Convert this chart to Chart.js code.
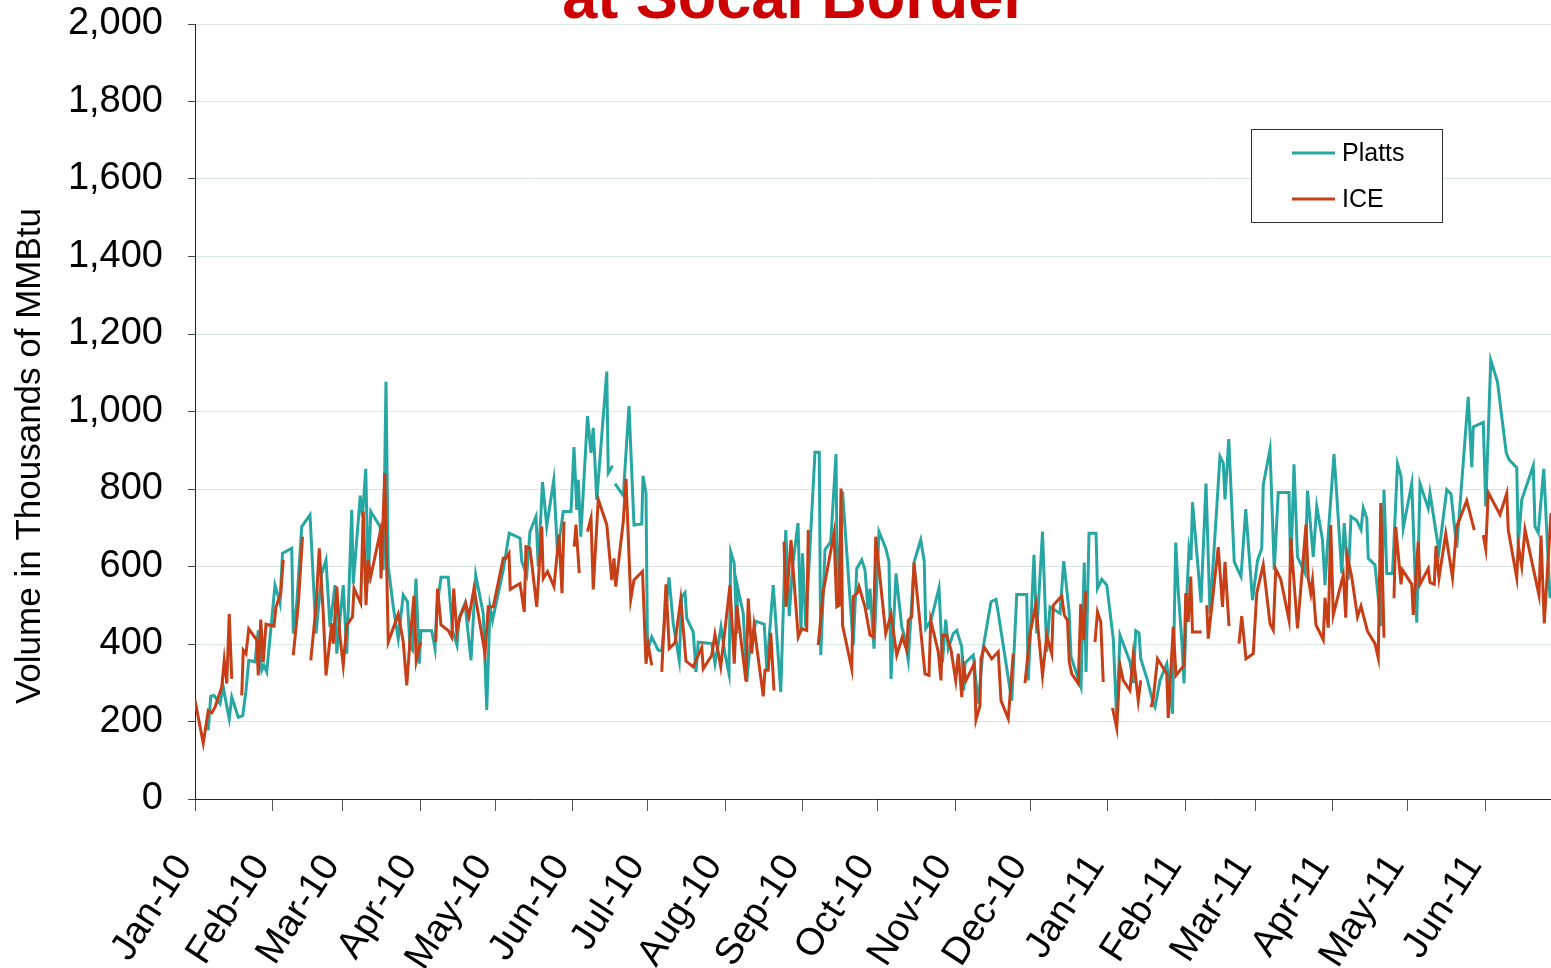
<!DOCTYPE html>
<html>
<head>
<meta charset="utf-8">
<title>Volume at Socal Border</title>
<script src="https://cdn.jsdelivr.net/npm/chart.js@4.4.1/dist/chart.umd.min.js"></script>
<style>
    body { margin: 0; background: #fff; }
    #wrap { width: 1551px; height: 968px; }
</style>
</head>
<body>
<div id="wrap"><canvas id="volumeChart" width="1551" height="968"></canvas></div>
<script>
// x = days since 1 Jan 2010, y = volume (thousands of MMBtu); null breaks the line
const plattsDaily = [
    [5.3,177],[6.3,265],[7.6,267],[10,246],[11.3,289],[12.4,250],[13.7,207],[14.7,263],[17.3,211],[19.1,215],
    [20.4,280],[21.5,358],[24,354],[25.3,435],[26.7,332],[27.6,345],[28.7,328],[32,552],[33,530],[34,505],
    [35,634],[38.7,647],[39.3,427],[40.7,505],[42.7,703],[46,733],[48.4,427],[50.7,582],[52.4,617],[54,444],
    [56,552],[56.7,375],[59.3,552],[60.7,375],[62.7,746],[63.3,556],[66.1,783],[67,729],[68.3,852],[69.3,556],
    [70.3,742],[74,703],[75.3,591],[76.4,1077],[77.3,600],[79.3,496],[81.3,414],[83.3,526],[85,509],[86,392],
    [87,384],[88.4,569],[89.7,349],[90.4,435],[94.7,434],[96,388],[96.7,492],[98.4,572],[101.3,572],[103,435],
    [104.8,397],[105.6,466],[108,505],[110.4,358],[112.3,578],[115.3,479],[116.7,230],[118,496],[119,461],[123.3,591],
    [125.7,686],[130,673],[130.7,613],[132.7,578],[134,690],[136.4,729],[137.3,600],[139,818],[140.7,704],[143.5,823],
    [145,634],[147.3,742],[150.4,742],[151.6,908],[152.7,746],[153.3,824],[154.3,677],[157,988],[158.4,893],[159.3,958],
    [160.7,772],[164.7,1103],[165.3,841],[167,860],[167.5,null],[168,814],[171.3,783],[173.6,1014],[175.6,707],[178.7,710],
    [179.2,834],[180.4,789],[181,384],[182.7,418],[185.3,384],[186.7,382],[189.6,572],[191.3,453],[193.7,358],[194.7,522],
    [196,533],[196.7,466],[199.3,431],[200.4,328],[201.3,405],[206.7,401],[208,349],[210.4,444],[212,375],[213.6,323],
    [214.3,638],[215.7,608],[216.7,427],[217,548],[219.3,479],[220.7,302],[222,392],[224.4,459],[227.7,451],[228.7,336],
    [231.3,552],[234.3,276],[236.3,694],[237.7,472],[239,600],[241.2,712],[242.4,431],[243,634],[244.3,444],[248,895],
    [249.7,895],[250.3,371],[252,643],[254.3,664],[256.4,890],[257,496],[259,794],[263.3,397],[264.7,595],[266.7,617],
    [268,591],[269.2,489],[270,543],[271.6,388],[273.6,690],[276.3,647],[277.6,613],[278.4,310],[280.4,582],[282.7,444],
    [283.7,423],[285.3,358],[287.7,613],[290.3,669],[291.7,613],[292.3,440],[294.4,461],[297.6,545],[299,354],[300.3,463],
    [301.3,388],[303.3,427],[304.7,435],[306.7,392],[307.5,280],[308,351],[311.3,371],[313.3,246],[315.3,392],[318.4,509],
    [320.4,515],[321.3,480],[326.7,254],[328.7,528],[332.7,528],[333.3,306],[335.6,630],[336.7,427],[339,690],[340.7,380],
    [342,496],[346,479],[347.5,614],[349.6,487],[350.4,367],[354.4,289],[355.7,610],[356.4,328],[357.6,686],[360.4,686],
    [361,543],[362.7,567],[364.7,552],[367.3,414],[368.7,203],[370,423],[374,354],[375.3,299],[376.3,434],[377.6,428],
    [378.3,362],[381,306],[383.3,246],[384,237],[386,306],[388.7,349],[391,220],[392.3,662],[393.3,535],[394.7,410],
    [395.6,298],[396.7,522],[397.6,647],[398.4,617],[399,766],[402.4,507],[404.4,814],[406,479],[410,884],[411.3,867],
    [412,773],[413.5,929],[415.7,612],[418.4,574],[420.3,748],[423,513],[425,615],[426.7,647],[427.3,810],[430,903],
    [431.7,591],[433.3,791],[437.6,791],[438.3,583],[439.6,864],[441,625],[444,583],[445,796],[447.3,625],[448.7,755],
    [451,669],[452,552],[453,656],[455.6,890],[456.7,785],[458.7,582],[459.7,712],[461.3,566],[462.4,729],[464.7,719],
    [466.4,695],[467.3,751],[468.7,725],[469.3,621],[472,604],[474.4,446],[475.6,798],[476.7,582],[479,582],[481,865],
    [482.4,833],[483.3,699],[486.7,814],[488.7,455],[490,814],[493.3,750],[494,789],[497.6,639],[500.7,798],[502.4,787],
    [504.7,649],[509.3,1038],[510.7,856],[511.3,960],[515.3,972],[516.3,755],[518.3,1133],[521,1076],[524.5,893],[525.6,876],
    [528.7,855],[529.3,656],[530.7,772],[535.3,860],[536,703],[537.3,687],[539.5,852],[542,518]
];

const iceDaily = [
    [0,255],[3.3,144],[5.3,228],[6.7,222],[8,237],[10.7,289],[11.7,358],[12.7,298],[13.7,477],[14.7,310],
    [16,null],[18.7,267],[19.3,384],[20.4,375],[21.5,439],[24.7,410],[25.3,319],[26.3,463],[27.3,354],[28.4,451],
    [31.6,446],[32.4,496],[34.3,530],[35.3,617],[37,null],[39.3,371],[41.3,500],[43,677],[45,null],[46.3,358],
    [48.4,496],[49.7,647],[51.3,479],[52.4,319],[54.7,453],[55.3,401],[56.7,548],[58,418],[59.3,345],[60.7,449],
    [63,470],[63.6,544],[66.3,505],[67.3,742],[68.4,500],[69.3,617],[70.3,574],[74,686],[74.4,569],[75.9,841],
    [77.3,405],[81.3,477],[83.3,405],[84.7,293],[86,410],[87.6,524],[88.5,356],[90.2,405],[92,null],[96.3,405],
    [97,543],[98.4,449],[101.3,435],[102.7,418],[103.5,543],[104.7,431],[106,470],[108.3,505],[109.6,470],[111.6,543],
    [116,375],[117.3,496],[119.3,496],[123.3,621],[124.3,621],[125.6,634],[126.1,541],[130,556],[131.7,483],[132.4,651],
    [134,647],[136.7,496],[138.7,703],[139.3,569],[141,587],[143.6,548],[145.6,682],[146.8,531],[147.6,716],[149,null],
    [151.7,651],[152.4,708],[153.7,583],[155,null],[157,690],[158.4,725],[159.3,541],[161.3,773],[164.7,708],[166.7,565],
    [167.6,621],[168.3,548],[171.3,716],[172.4,826],[174.3,515],[175.6,565],[179,587],[180.4,349],[181.3,397],[182.7,345],
    [184,null],[186.7,328],[188.4,554],[189.7,388],[192,403],[194.3,515],[196.4,356],[199.3,341],[200.4,358],[202.7,391],
    [203.3,336],[206.7,371],[208,425],[210.3,341],[214,552],[215.7,349],[216.7,500],[220.4,304],[221.3,517],[222.7,375],
    [223.6,446],[227.3,265],[228,332],[229.3,332],[230.3,429],[231.6,280],[233,null],[235.6,664],[236.4,496],[238.4,668],
    [241.3,418],[242.7,440],[244.7,435],[245.3,694],[247,null],[249.3,397],[251.3,535],[255.6,686],[256.7,496],[257.7,500],
    [258.4,801],[259,449],[262.7,336],[263.3,522],[264.9,531],[265.6,548],[268,496],[270,423],[271.3,418],[272.3,677],
    [276.3,427],[278.4,477],[280.7,371],[282.9,418],[284.7,384],[285.3,461],[286.7,470],[287.6,610],[292,323],[293.6,319],
    [294.3,461],[297.3,380],[298.4,306],[298.9,423],[300.7,422],[302.4,384],[304.3,306],[305.3,375],[306.7,263],[307.5,341],
    [308.4,306],[311.7,349],[312.4,204],[314,241],[314.4,362],[315.7,392],[318.7,362],[321.3,380],[322.4,254],[325.3,207],
    [327.3,375],[329,null],[332,299],[334,425],[336.3,503],[339,319],[340.7,422],[342.7,375],[343.3,500],[346.7,524],
    [347.7,475],[349,461],[349.7,354],[350.7,323],[353.3,298],[354.3,503],[355.5,410],[356.3,537],[358,null],[360,405],
    [361,483],[362.3,457],[363.3,302],[365,null],[367,235],[368.7,183],[370,345],[371.3,306],[374,280],[375.3,371],
    [377.3,254],[378.3,306],[380,null],[382.4,237],[383.3,259],[385,362],[388.7,323],[389.3,209],[391.3,444],[392.4,319],
    [395.6,345],[396.3,531],[397.3,457],[398.3,574],[399,431],[402.7,431],[404,null],[404.7,500],[405.3,414],[409.3,650],
    [411,496],[412,612],[413.6,446],[415,null],[417.6,401],[418.7,472],[420.4,362],[423.3,375],[424.7,531],[427.3,604],
    [430,453],[431.3,436],[432.3,593],[434.3,567],[437.6,462],[438.3,673],[441,440],[444.4,708],[445.3,569],[446.3,531],
    [447,565],[448.4,449],[451.3,411],[452,519],[453.3,442],[454.3,707],[455.3,475],[459.3,578],[460.3,468],[461,625],
    [462.7,573],[465,470],[466.4,498],[469,433],[472,401],[473.3,364],[474.3,764],[475.6,416],[477,null],[479.6,518],
    [480.3,702],[482.4,554],[483,591],[486.7,554],[487.3,475],[489.3,664],[490,554],[493.3,595],[494,559],[495.7,554],
    [496.4,653],[497.6,571],[500.3,684],[503,571],[504.7,703],[508.7,770],[511.7,694],[513,null],[515.3,681],[516.3,645],
    [517.3,791],[522,734],[524.7,789],[525.3,694],[528.7,571],[529.3,656],[530.7,600],[532,695],[537.6,526],[538.4,680],
    [539.7,453],[542.4,738]
];

// first of each month, in days since 1 Jan 2010
const monthStartDays = [0, 31, 59, 90, 120, 151, 181, 212, 243, 273, 304, 334, 365, 396, 424, 455, 485, 516];
const monthLabels = ['Jan-10', 'Feb-10', 'Mar-10', 'Apr-10', 'May-10', 'Jun-10', 'Jul-10', 'Aug-10', 'Sep-10',
    'Oct-10', 'Nov-10', 'Dec-10', 'Jan-11', 'Feb-11', 'Mar-11', 'Apr-11', 'May-11', 'Jun-11'];
const yTicks = [0, 200, 400, 600, 800, 1000, 1200, 1400, 1600, 1800, 2000];

const seriesNames = ['Platts', 'ICE'];
const seriesColors = ['#27a7a3', '#c63f17'];
const FONT = '"Liberation Sans", Arial, sans-serif';

function toPoints(rows) {
    return rows.map(r => ({ x: r[0], y: r[1] }));
}

const decorPlugin = {
    id: 'decor',
    afterDraw(chart) {
        const ctx = chart.ctx;
        ctx.save();

        // title, top line falls off the picture
        ctx.fillStyle = '#cc0000';
        ctx.font = 'bold 63px ' + FONT;
        ctx.textAlign = 'center';
        ctx.textBaseline = 'alphabetic';
        ctx.fillText('at Socal Border', 795, 18);

        // y axis title
        ctx.save();
        ctx.translate(30, 456);
        ctx.rotate(-Math.PI / 2);
        ctx.fillStyle = '#000';
        ctx.font = '35px ' + FONT;
        ctx.textAlign = 'center';
        ctx.textBaseline = 'middle';
        ctx.fillText('Volume in Thousands of MMBtu', 0, 0);
        ctx.restore();

        // legend box
        ctx.fillStyle = '#fff';
        ctx.fillRect(1251, 129, 191, 93);
        ctx.strokeStyle = '#333';
        ctx.lineWidth = 1;
        ctx.strokeRect(1251.5, 129.5, 191, 93);
        ctx.font = '25px ' + FONT;
        ctx.textAlign = 'left';
        ctx.textBaseline = 'middle';
        const rowsY = [153, 199];
        seriesNames.forEach(function(name, i) {
            ctx.strokeStyle = seriesColors[i];
            ctx.lineWidth = 3;
            ctx.beginPath();
            ctx.moveTo(1292, rowsY[i]);
            ctx.lineTo(1335, rowsY[i]);
            ctx.stroke();
            ctx.fillStyle = '#000';
            ctx.fillText(name, 1342, rowsY[i] + 1);
        });
        ctx.restore();
    }
};

const ctxEl = document.getElementById('volumeChart');
new Chart(ctxEl.getContext('2d'), {
    type: 'line',
    data: {
        datasets: [{
            label: seriesNames[0],
            data: toPoints(plattsDaily),
            borderColor: seriesColors[0],
            borderWidth: 3,
            pointRadius: 0,
            tension: 0,
            spanGaps: false,
            order: 1
        }, {
            label: seriesNames[1],
            data: toPoints(iceDaily),
            borderColor: seriesColors[1],
            borderWidth: 3,
            pointRadius: 0,
            tension: 0,
            spanGaps: false,
            order: 0
        }]
    },
    options: {
        responsive: false,
        animation: false,
        events: [],
        layout: { padding: { top: 24, left: 0, right: 0, bottom: 0 } },
        plugins: {
            legend: { display: false },
            tooltip: { enabled: false },
            title: { display: false }
        },
        scales: {
            x: {
                type: 'linear',
                min: 0,
                max: 542.4,
                afterBuildTicks: function(scale) {
                    scale.ticks = monthStartDays.map(v => ({ value: v }));
                },
                afterFit: function(scale) {
                    scale.height = 169;
                    // plot runs to the right edge of the picture
                    scale.paddingLeft = 0;
                    scale.paddingRight = 0;
                },
                ticks: {
                    autoSkip: false,
                    minRotation: 57,
                    maxRotation: 57,
                    padding: 36,
                    labelOffset: -11,
                    color: '#000',
                    font: { family: FONT, size: 38 },
                    callback: function(value, index) { return monthLabels[index]; }
                },
                grid: { drawOnChartArea: false, drawTicks: true, tickLength: 12, color: '#555' },
                border: { display: true, color: '#222', width: 1 }
            },
            y: {
                min: 0,
                max: 2000,
                afterBuildTicks: function(scale) {
                    scale.ticks = yTicks.map(v => ({ value: v }));
                },
                afterFit: function(scale) {
                    scale.width = 195;
                    // keep the top label from pushing the plot down
                    scale.paddingTop = 0;
                    scale.paddingBottom = 0;
                },
                ticks: {
                    padding: 25,
                    color: '#000',
                    font: { family: FONT, size: 38 },
                    callback: function(value) { return value.toLocaleString('en-US'); }
                },
                grid: {
                    color: function(c) { return c.tick && c.tick.value === 0 ? 'rgba(0,0,0,0)' : '#d9e6e8'; },
                    tickColor: '#444',
                    tickLength: 7,
                    drawTicks: true
                },
                border: { display: true, color: '#222', width: 1 }
            }
        }
    },
    plugins: [decorPlugin]
});
</script>
</body>
</html>
